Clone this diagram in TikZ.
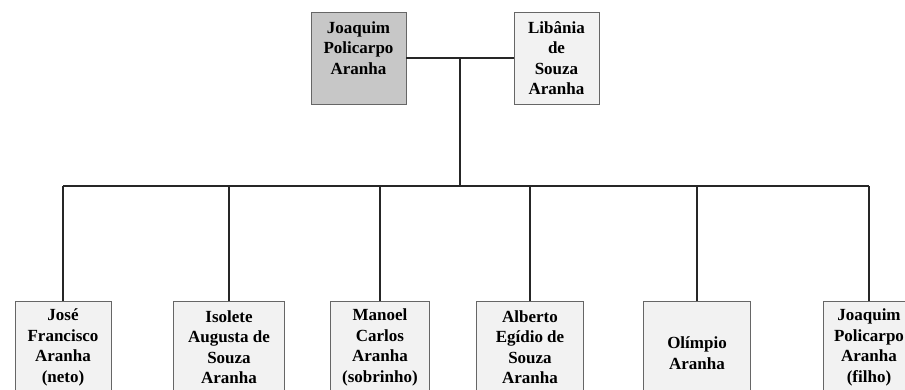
\documentclass[tikz,border=0pt]{standalone}
\usepackage{fontspec}
\setmainfont{Liberation Serif}
\begin{document}
\begin{tikzpicture}[x=1pt, y=-1pt,
    every node/.style={font=\fontsize{17}{20.5}\selectfont\bfseries, align=center},
    box/.style={draw=black!60, fill=black!5, minimum height=92pt, inner sep=0pt},
    linie/.style={draw=black!85, line width=1.4pt}]
  \useasboundingbox (0,0) rectangle (905,389);
  \clip (0,0) rectangle (905,389);
  % Eltern
  \node[box, fill=black!22, minimum width=95pt] (vater) at (358.5,58) {Joaquim\\Policarpo\\Aranha\\\mbox{}};
  \node[box, minimum width=85pt] (mutter) at (556.5,58) {Libânia\\de\\Souza\\Aranha};
  \draw[linie] (vater.east) -- coordinate[pos=0.5] (mitte) (mutter.west);
  % Kinder (Boxen unten angeschnitten)
  \coordinate (bus) at (0,186);
  \foreach \n/\xc/\breite/\hoehe/\txt in {1/63/96/92/{José\\Francisco\\Aranha\\(neto)},
      2/229/111/92/{Isolete\\Augusta de\\Souza\\Aranha},
      3/380/99/92/{Manoel\\Carlos\\Aranha\\(sobrinho)},
      4/530/107/92/{Alberto\\Egídio de\\Souza\\Aranha},
      5/697/107/104/{Olímpio\\Aranha},
      6/869/92/92/{Joaquim\\Policarpo\\Aranha\\(filho)}}{
    \node[box, anchor=north, minimum width=\breite pt, minimum height=\hoehe pt] (k\n) at (\xc,301) {\txt};
    \draw[linie] (k\n.north) -- (k\n.north |- bus);
  }
  % Verbindungen
  \draw[linie] (mitte) -- (mitte |- bus);
  \draw[linie] (k1.north |- bus) -- (k6.north |- bus);
\end{tikzpicture}
\end{document}
